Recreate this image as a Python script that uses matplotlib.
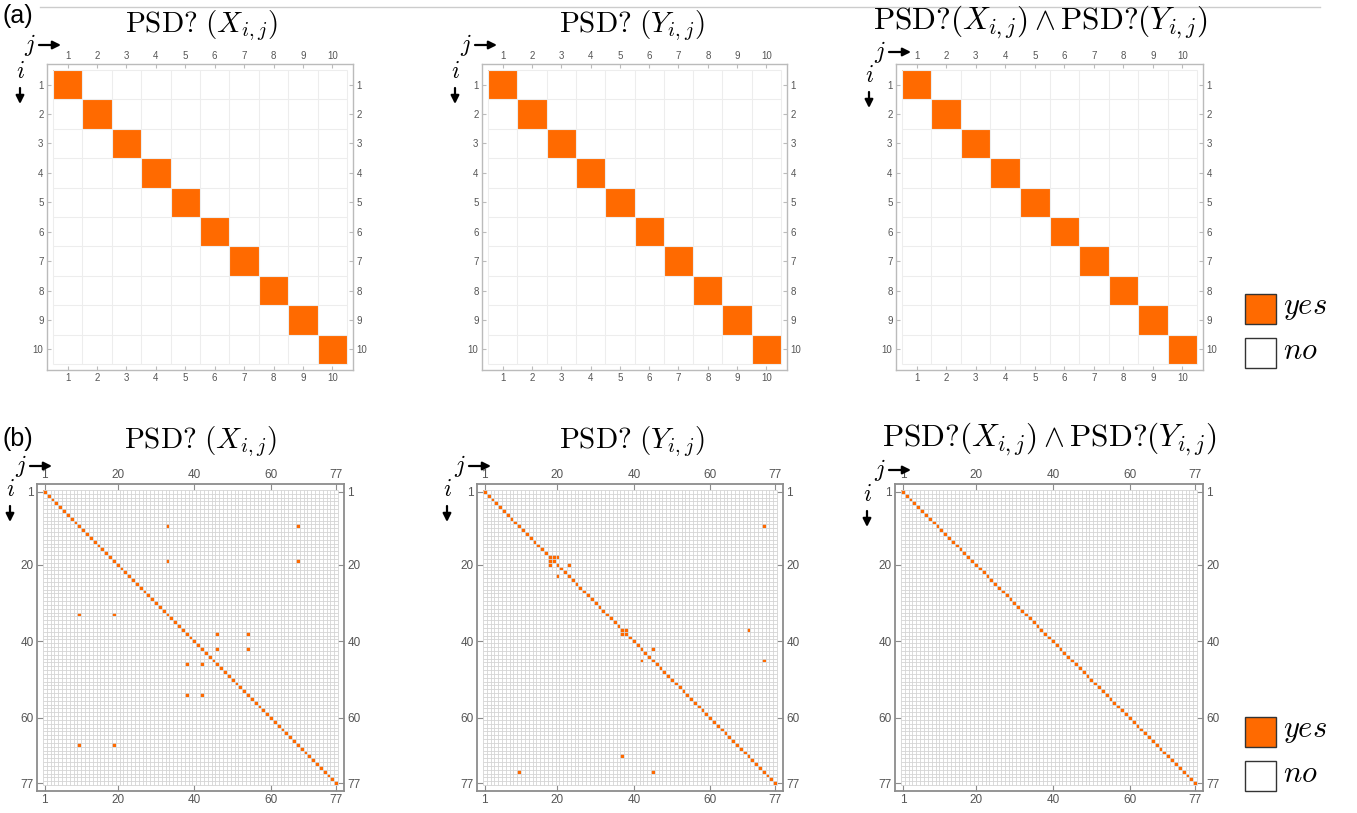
import numpy as np
import matplotlib
matplotlib.use("Agg")
import matplotlib.pyplot as plt
from matplotlib.colors import ListedColormap
from matplotlib.patches import Rectangle, FancyArrowPatch
from matplotlib.lines import Line2D

plt.rcParams['mathtext.fontset'] = 'cm'
plt.rcParams['font.family'] = ['Liberation Sans', 'DejaVu Sans']

# --- data -------------------------------------------------------------
size_a = 10
size_b = 77
ticks_a = list(range(1, 11))
ticks_b = [1, 20, 40, 60, 77]

# off-diagonal "yes" cells (row i, column j) read from row (b)
x_offdiag = [(10, 33), (10, 67), (19, 33), (19, 67), (33, 10), (33, 19),
             (67, 10), (67, 19), (38, 46), (38, 54), (42, 46), (42, 54),
             (46, 38), (46, 42), (54, 38), (54, 42)]
y_offdiag = [(10, 74), (74, 10), (18, 19), (19, 18), (18, 20), (20, 18),
             (20, 23), (23, 20), (37, 38), (38, 37), (37, 70), (70, 37),
             (42, 45), (45, 42), (45, 74), (74, 45)]

titles = [r'$\mathrm{PSD?}\ (X_{i,j})$',
          r'$\mathrm{PSD?}\ (Y_{i,j})$',
          r'$\mathrm{PSD?}(X_{i,j})\wedge\mathrm{PSD?}(Y_{i,j})$']
title_sizes = [21, 21, 22.5]

orange = '#FF6A00'
W, H = 1357, 813

fig = plt.figure(figsize=(W / 100, H / 100), dpi=100)


def add_ax(left, top, right, bottom):
    return fig.add_axes([left / W, 1 - bottom / H, (right - left) / W, (bottom - top) / H])


def fy(y):
    # pixel row from the top -> figure fraction
    return 1 - y / H


def matrix(n, extra):
    m = np.zeros((n, n))
    for k in range(n):
        m[k, k] = 1
    for i, j in extra:
        m[i - 1, j - 1] = 1
    return m


def draw_panel(ax, m, ticks, pad, grid_color, grid_lw, spine_color, spine_lw, fs, tlen):
    n = m.shape[0]
    edges = np.arange(0.5, n + 1.5)
    ax.pcolormesh(edges, edges, np.ma.masked_equal(m, 0), cmap=ListedColormap([orange]),
                  antialiased=False, zorder=1)
    # mesh on top of the cells
    ax.vlines(edges, 0.5, n + 0.5, color=grid_color, lw=grid_lw, zorder=2)
    ax.hlines(edges, 0.5, n + 0.5, color=grid_color, lw=grid_lw, zorder=2)
    ax.set_xlim(0.5 - pad, n + 0.5 + pad)
    ax.set_ylim(n + 0.5 + pad, 0.5 - pad)
    ax.set_xticks(ticks)
    ax.set_yticks(ticks)
    ax.tick_params(direction='in', top=True, right=True, labeltop=True, labelright=True,
                   length=tlen, width=0.8, color=spine_color, labelcolor='#555555',
                   labelsize=fs, pad=2.5)
    for s in ax.spines.values():
        s.set_color(spine_color)
        s.set_linewidth(spine_lw)


def arrows(jx, jy, ix, iy):
    fig.text(jx / W, fy(jy), r'$j$', fontsize=17, ha='center', va='center')
    fig.text(ix / W, fy(iy), r'$i$', fontsize=17, ha='center', va='center')
    ap = dict(arrowstyle='-|>', color='k', lw=1.6, mutation_scale=12, shrinkA=0, shrinkB=0)
    fig.add_artist(FancyArrowPatch(((jx + 9) / W, fy(jy)), ((jx + 31) / W, fy(jy)),
                                   transform=fig.transFigure, **ap))
    fig.add_artist(FancyArrowPatch((ix / W, fy(iy + 16)), (ix / W, fy(iy + 32)),
                                   transform=fig.transFigure, **ap))


def legend(top):
    for k, (lab, col) in enumerate([('yes', orange), ('no', 'white')]):
        y0 = top + k * 44
        fig.add_artist(Rectangle((1245 / W, fy(y0 + 30)), 31 / W, 30 / H, facecolor=col,
                                 edgecolor='#333333', lw=1.0, transform=fig.transFigure))
        fig.text(1283 / W, fy(y0 + 13), '$' + lab + '$', fontsize=22, ha='left', va='center')


# --- row (a) ----------------------------------------------------------
frames_a = [(47, 64, 353, 370), (482, 64, 787, 370), (896, 64, 1203, 370)]
title_x_a = [201, 632, 1040]
title_y_a = [26, 26, 22]
for k, fr in enumerate(frames_a):
    ax = add_ax(*fr)
    draw_panel(ax, matrix(size_a, []), ticks_a, 0.2, '#EDEDED', 0.8, '#BBBBBB', 1.0, 7, 3)
    fig.text(title_x_a[k] / W, fy(title_y_a[k]), titles[k], fontsize=title_sizes[k],
             ha='center', va='center')

# --- row (b) ----------------------------------------------------------
both = sorted(set(x_offdiag) & set(y_offdiag))
mats_b = [matrix(size_b, x_offdiag), matrix(size_b, y_offdiag), matrix(size_b, both)]
frames_b = [(37, 484, 344, 791), (477, 484, 783, 791), (895, 484, 1203, 791)]
title_x_b = [200, 632, 1049]
title_y_b = [442, 442, 439]
for k, fr in enumerate(frames_b):
    ax = add_ax(*fr)
    draw_panel(ax, mats_b[k], ticks_b, 1.55, '#D4D4D4', 0.6, '#8C8C8C', 1.3, 8.5, 4)
    fig.text(title_x_b[k] / W, fy(title_y_b[k]), titles[k], fontsize=title_sizes[k],
             ha='center', va='center')

# j / i arrows
arrows(30, 45, 20, 72)
arrows(466, 45, 455, 72)
arrows(880, 52, 869, 76)
arrows(21, 466, 10, 490)
arrows(460, 466, 447, 490)
arrows(880, 470, 867, 495)

legend(294)
legend(717)

fig.text(3 / W, fy(16), '(a)', fontsize=18, ha='left', va='center')
fig.text(3 / W, fy(439), '(b)', fontsize=18, ha='left', va='center')
fig.add_artist(Line2D([40 / W, 1320 / W], [fy(7), fy(7)], color='#CCCCCC', lw=1.0,
                      transform=fig.transFigure))

fig.savefig('out.png', dpi=100)
